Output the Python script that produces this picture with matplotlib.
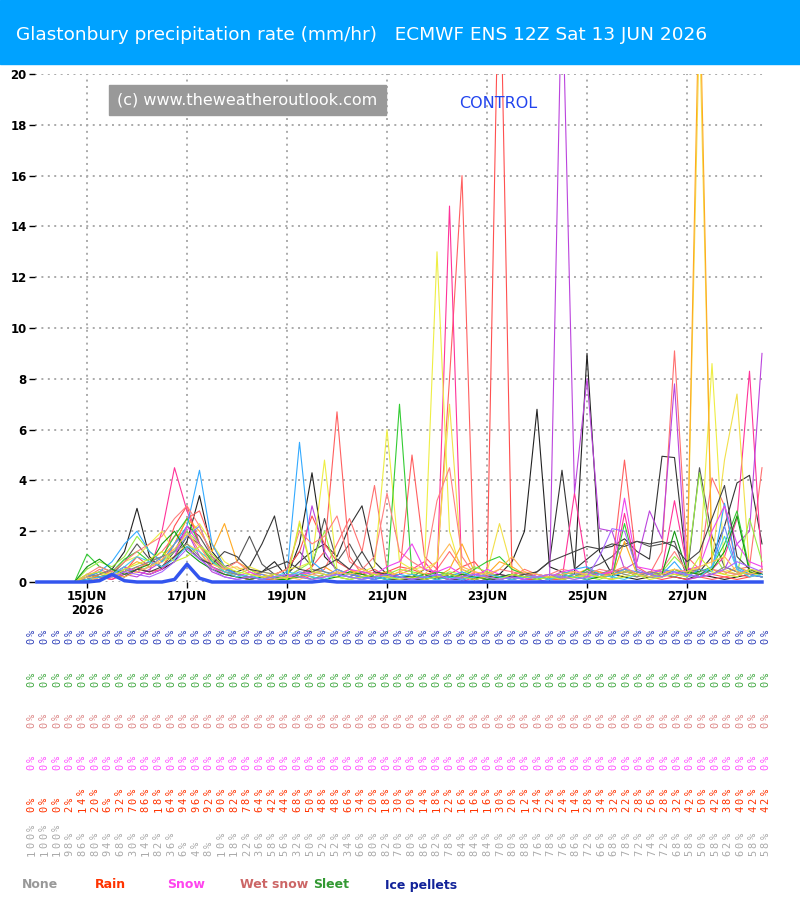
import numpy as np
import matplotlib
matplotlib.use("Agg")
import matplotlib.pyplot as plt
from matplotlib.patches import Rectangle

# ---- data --------------------------------------------------------------
title = "Glastonbury precipitation rate (mm/hr)   ECMWF ENS 12Z Sat 13 JUN 2026"
day_ticks = [0, 2, 4, 6, 8, 10, 12]
day_labels = ["15JUN\n2026", "17JUN", "19JUN", "21JUN", "23JUN", "25JUN", "27JUN"]
t_start = -1.0     # first step, days from 15 JUN 00Z
t_step = 0.25      # 6-hourly

control = [0, 0, 0, 0, 0, 0.05, 0.3, 0.05, 0, 0,
           0, 0.1, 0.7, 0.15, 0, 0, 0, 0, 0, 0,
           0, 0, 0, 0.05, 0, 0, 0, 0, 0, 0,
           0, 0, 0, 0, 0, 0, 0, 0, 0, 0,
           0, 0, 0, 0, 0, 0, 0, 0, 0, 0,
           0, 0, 0, 0, 0, 0, 0, 0, 0]

m01 = [0, 0, 0, 0, 0.1, 0.3, 0.5, 1.2, 2.9, 1.0,
       0.5, 0.8, 1.6, 3.4, 1.2, 0.6, 0.3, 0.2, 0.4, 0.8,
       0.2, 1.5, 4.3, 1.0, 0.5, 0.3, 0.2, 0.1, 0.3, 0.2,
       0.1, 0.2, 0.1, 0.3, 0.2, 0.1, 0.2, 0.3, 0.8, 2.0,
       6.8, 0.6, 0.4, 0.3, 9.0, 1.2, 0.3, 0.2, 0.1, 0.2,
       0.3, 0.2, 0.1, 0.3, 0.2, 0.1, 0.2, 0.3, 0.2]
m02 = [0, 0, 0, 0, 0, 0.2, 0.3, 0.6, 0.4, 0.3,
       0.5, 1.0, 1.8, 1.5, 0.9, 0.5, 0.4, 0.6, 1.5, 2.6,
       0.3, 0.8, 1.2, 1.5, 1.0, 2.2, 3.0, 0.8, 0.3, 0.2,
       0.2, 0.5, 0.3, 0.2, 0.1, 0.2, 0.3, 0.2, 0.1, 0.2,
       0.4, 0.8, 4.4, 0.5, 0.9, 1.3, 1.4, 1.7, 1.2, 0.9,
       4.95, 4.9, 0.5, 0.4, 1.0, 2.2, 3.9, 4.2, 1.5]
m03 = [0, 0, 0, 0, 0.2, 0.4, 0.3, 0.8, 1.5, 0.9,
       0.6, 1.2, 2.2, 1.8, 1.0, 0.6, 0.8, 1.8, 0.7, 0.3,
       0.5, 1.2, 0.6, 2.5, 0.8, 1.5, 0.6, 0.2, 0.1, 0.1,
       0.1, 0.1, 0.2, 0.1, 0.1, 0.2, 0.1, 0.1, 0.2, 0.3,
       0.2, 0.2, 0.1, 0.2, 0.5, 0.7, 1.0, 1.5, 1.6, 1.4,
       1.5, 1.6, 0.2, 4.5, 1.8, 0.6, 0.4, 0.3, 0.2]
m04 = [0, 0, 0, 0, 0.3, 0.2, 0.1, 0.4, 1.0, 0.6,
       0.8, 2.2, 3.0, 1.5, 0.8, 0.4, 0.2, 0.1, 0.2, 0.3,
       0.5, 1.2, 2.6, 1.5, 0.8, 0.5, 0.3, 0.2, 0.4, 0.6,
       0.5, 0.3, 0.4, 0.3, 0.6, 0.8, 0.2, 26.0, 0.2, 0.1,
       0.1, 0.2, 0.3, 0.2, 0.1, 0.2, 0.4, 0.5, 0.3, 0.2,
       0.1, 0.2, 0.1, 0.2, 0.3, 0.2, 0.1, 0.2, 0.3]
m05 = [0, 0, 0, 0, 0, 0.1, 0.5, 0.3, 0.6, 0.4,
       0.5, 1.5, 2.5, 2.8, 1.5, 0.6, 0.3, 0.2, 0.1, 0.1,
       0.2, 0.3, 0.6, 1.2, 6.7, 1.0, 0.3, 0.5, 0.2, 0.3,
       5.0, 1.0, 0.5, 8.0, 16.0, 0.0, 0.1, 0.2, 0.3, 0.4,
       0.2, 0.1, 0.1, 0.2, 0.3, 0.2, 0.5, 4.8, 0.6, 0.3,
       0.2, 0.5, 0.3, 0.2, 0.1, 0.2, 0.3, 0.2, 0.4]
m06 = [0, 0, 0, 0, 0.2, 0.5, 0.3, 0.2, 0.5, 0.8,
       1.2, 1.8, 2.0, 1.2, 0.5, 0.3, 0.2, 0.1, 0.2, 0.1,
       0.1, 0.2, 0.3, 0.5, 1.5, 2.5, 1.2, 3.8, 0.5, 0.2,
       0.3, 0.2, 0.5, 1.2, 0.5, 0.3, 0.2, 0.1, 0.2, 0.5,
       0.3, 0.2, 0.1, 0.3, 0.2, 0.4, 0.3, 0.5, 0.2, 0.3,
       1.2, 9.1, 1.0, 0.5, 4.1, 3.0, 0.5, 0.6, 4.5]
m07 = [0, 0, 0, 0, 0, 0.2, 0.1, 0.3, 0.5, 0.4,
       2.0, 4.5, 2.8, 1.5, 0.6, 0.3, 0.2, 0.1, 0.2, 0.1,
       0.2, 0.3, 0.1, 0.2, 0.3, 0.2, 0.1, 0.4, 0.2, 0.3,
       0.5, 0.8, 0.2, 14.8, 0.0, 0.2, 0.3, 0.1, 0.2, 0.1,
       0.2, 0.3, 0.1, 3.5, 0.5, 0.2, 0.1, 2.7, 0.4, 0.3,
       0.5, 3.2, 0.6, 0.2, 0.5, 1.0, 2.5, 8.3, 0.5]
m08 = [0, 0, 0, 0, 0, 0.1, 0.2, 0.3, 0.2, 0.5,
       0.8, 1.5, 2.0, 1.0, 0.4, 0.2, 0.1, 0.2, 0.1, 0.3,
       0.2, 0.5, 3.0, 1.2, 0.4, 0.3, 0.2, 0.1, 0.3, 0.2,
       0.1, 0.3, 0.2, 0.1, 0.2, 0.3, 0.4, 0.2, 0.1, 0.2,
       0.1, 0.0, 24.0, 3.5, 8.0, 2.1, 2.0, 0.5, 0.8, 2.8,
       1.7, 7.8, 0.1, 0.2, 0.3, 0.5, 1.5, 2.0, 9.0]
m09 = [0, 0, 0, 0, 0.1, 0.2, 0.4, 0.8, 1.0, 1.5,
       2.0, 1.2, 1.8, 2.3, 1.5, 0.8, 0.5, 0.6, 0.4, 0.3,
       0.5, 0.6, 0.8, 4.8, 0.5, 0.3, 0.4, 0.6, 6.0, 0.8,
       0.5, 0.6, 13.0, 2.0, 0.3, 0.2, 0.1, 0.3, 0.2, 0.3,
       0.2, 0.1, 0.3, 0.2, 0.4, 0.3, 0.2, 0.5, 0.3, 0.2,
       0.4, 0.5, 0.3, 0.6, 8.6, 0.5, 0.3, 0.4, 0.2]
m10 = [0, 0, 0, 0, 0, 0.2, 0.3, 0.5, 0.4, 0.6,
       0.8, 1.0, 1.5, 1.2, 0.6, 0.4, 0.3, 0.2, 0.3, 0.2,
       0.1, 2.4, 0.5, 0.3, 0.2, 0.4, 0.5, 0.3, 0.2, 0.4,
       0.3, 0.5, 0.8, 7.0, 0.5, 0.2, 0.4, 2.3, 0.5, 0.3,
       0.2, 0.3, 0.2, 0.1, 0.3, 0.2, 0.1, 0.3, 0.2, 0.4,
       0.3, 0.5, 0.2, 22.0, 0.8, 4.8, 7.4, 0.5, 0.3]
m11 = [0, 0, 0, 0, 0.1, 0.3, 0.2, 0.5, 0.8, 0.6,
       1.0, 1.5, 2.5, 2.0, 1.2, 2.3, 0.8, 0.5, 0.3, 0.2,
       0.3, 0.2, 0.4, 0.6, 0.3, 0.5, 0.2, 0.3, 0.4, 0.2,
       0.1, 0.3, 0.2, 0.5, 1.5, 0.4, 0.3, 0.8, 0.6, 0.3,
       0.2, 0.1, 0.2, 0.3, 0.5, 0.4, 0.2, 1.6, 0.3, 0.2,
       0.5, 0.3, 0.3, 24.0, 0.5, 0.3, 0.6, 0.4, 0.3]
m12 = [0, 0, 0, 0, 1.1, 0.6, 0.4, 0.9, 1.2, 0.8,
       1.0, 1.8, 2.5, 1.5, 0.8, 0.5, 0.3, 0.2, 0.1, 0.2,
       0.1, 0.2, 0.1, 0.3, 0.2, 0.1, 0.2, 0.3, 0.2, 7.0,
       0.3, 0.2, 0.4, 0.3, 0.2, 0.5, 0.8, 1.0, 0.5, 0.3,
       0.2, 0.1, 0.3, 0.2, 0.5, 0.3, 0.2, 2.3, 0.4, 0.3,
       0.2, 0.5, 0.3, 0.4, 0.6, 1.5, 2.8, 0.5, 0.3]
m13 = [0, 0, 0, 0, 0.5, 0.8, 0.6, 1.0, 1.8, 1.2,
       0.8, 1.2, 2.0, 1.5, 0.9, 0.4, 0.3, 0.5, 0.2, 0.1,
       0.2, 0.5, 0.8, 2.0, 0.3, 0.2, 0.1, 0.2, 0.3, 0.5,
       0.4, 0.3, 0.2, 0.4, 0.3, 0.6, 0.4, 0.2, 0.3, 0.2,
       0.1, 0.2, 0.4, 0.3, 0.2, 0.1, 0.3, 0.5, 0.3, 0.2,
       0.4, 1.0, 0.5, 4.3, 1.2, 0.4, 0.3, 2.5, 0.8]
m14 = [0, 0, 0, 0, 0.2, 0.4, 0.8, 1.5, 2.0, 1.2,
       0.8, 1.5, 2.2, 4.4, 1.5, 0.6, 0.3, 0.2, 0.1, 0.2,
       0.3, 5.5, 0.8, 0.4, 0.2, 0.3, 0.2, 0.1, 0.2, 0.3,
       0.2, 0.1, 0.3, 0.2, 0.4, 0.2, 0.1, 0.2, 0.3, 0.2,
       0.1, 0.2, 0.3, 0.5, 0.6, 0.3, 0.2, 0.4, 0.3, 0.2,
       0.3, 0.8, 0.2, 0.5, 0.4, 3.1, 0.6, 0.3, 0.2]
m15 = [0, 0, 0, 0, 0.1, 0.2, 0.3, 0.5, 0.4, 0.6,
       1.0, 1.2, 1.8, 2.2, 1.0, 0.5, 0.3, 0.2, 0.3, 0.1,
       0.2, 0.4, 0.3, 0.2, 0.5, 0.3, 0.2, 0.1, 0.3, 0.2,
       0.1, 0.2, 0.3, 0.2, 0.1, 0.3, 0.2, 0.1, 0.2, 0.3,
       0.2, 0.1, 0.2, 0.3, 0.4, 0.2, 0.3, 0.5, 0.4, 0.3,
       0.5, 0.4, 0.2, 0.3, 0.6, 2.2, 0.5, 0.3, 0.2]
m16 = [0, 0, 0, 0, 0.3, 0.6, 0.4, 0.8, 1.2, 1.5,
       1.8, 2.5, 3.0, 2.2, 1.0, 0.5, 0.8, 0.4, 0.2, 0.3,
       0.5, 2.0, 1.5, 1.8, 2.6, 0.8, 0.5, 1.0, 3.5, 1.2,
       0.8, 0.5, 3.2, 4.5, 1.0, 0.3, 0.2, 0.5, 0.4, 0.3,
       0.2, 0.3, 0.5, 0.4, 0.3, 0.5, 0.4, 0.6, 0.3, 0.4,
       0.5, 1.2, 0.4, 0.3, 0.5, 0.4, 0.3, 0.5, 0.4]
m17 = [0, 0, 0, 0, 0.2, 0.3, 0.5, 0.4, 0.6, 0.8,
       1.0, 1.2, 1.5, 1.0, 0.6, 0.4, 0.3, 0.2, 0.4, 0.3,
       0.2, 0.3, 0.5, 0.4, 0.3, 0.2, 0.4, 0.3, 0.2, 0.1,
       0.2, 0.1, 0.2, 0.1, 0.3, 0.2, 0.1, 0.2, 0.1, 0.2,
       0.3, 0.2, 0.1, 0.2, 0.4, 0.3, 0.5, 0.3, 0.2, 0.4,
       0.3, 0.2, 0.4, 0.5, 0.3, 0.6, 0.4, 0.3, 0.5]
m18 = [0, 0, 0, 0, 0, 0.1, 0.3, 0.6, 0.4, 0.3,
       0.5, 1.0, 2.2, 1.5, 0.6, 0.3, 0.2, 0.4, 0.2, 0.1,
       0.2, 0.3, 0.4, 0.3, 0.2, 0.5, 0.4, 0.3, 0.6, 0.8,
       1.5, 0.5, 0.4, 0.6, 0.3, 0.2, 0.5, 0.3, 0.2, 0.1,
       0.3, 0.2, 0.4, 0.5, 0.2, 0.3, 0.4, 3.3, 0.6, 0.5,
       0.4, 0.3, 0.5, 0.6, 2.0, 3.0, 1.5, 0.8, 0.6]
m19 = [0, 0, 0, 0, 0.6, 0.9, 0.5, 0.3, 0.5, 0.7,
       1.5, 2.0, 1.2, 0.8, 0.5, 0.3, 0.2, 0.1, 0.2, 0.1,
       0.1, 0.3, 0.2, 0.1, 0.2, 0.4, 0.3, 0.2, 0.1, 0.2,
       0.2, 0.3, 0.1, 0.2, 0.3, 0.2, 0.1, 0.2, 0.3, 0.2,
       0.1, 0.2, 0.3, 0.2, 0.1, 0.2, 0.3, 0.4, 0.3, 0.2,
       0.3, 2.0, 0.4, 0.3, 0.5, 1.2, 2.6, 0.4, 0.3]
m20 = [0, 0, 0, 0, 0.1, 0.2, 0.3, 0.2, 0.5, 0.4,
       0.6, 1.0, 1.4, 0.9, 0.7, 1.2, 1.0, 0.5, 0.4, 0.6,
       0.8, 0.5, 0.4, 0.6, 0.9, 0.5, 1.2, 0.4, 0.3, 0.2,
       0.2, 0.1, 0.2, 0.3, 0.2, 0.1, 0.2, 0.3, 0.2, 0.3,
       0.4, 0.8, 1.0, 1.2, 1.4, 1.3, 1.5, 1.4, 1.6, 1.5,
       1.6, 1.4, 0.8, 1.2, 2.5, 3.8, 1.0, 0.5, 0.3]
m21 = [0, 0, 0, 0, 0.1, 0.2, 0.3, 0.6, 1.0, 0.8,
       0.6, 0.9, 1.4, 1.2, 0.8, 0.4, 0.2, 0.3, 0.1, 0.2,
       0.4, 0.3, 0.2, 0.1, 0.3, 0.2, 0.1, 0.2, 0.1, 0.2,
       0.3, 0.2, 0.1, 0.2, 0.1, 0.2, 0.3, 0.2, 0.1, 0.2,
       0.2, 0.1, 0.3, 0.2, 0.1, 0.3, 0.2, 0.1, 0.3, 0.2,
       0.2, 0.4, 0.3, 0.2, 0.6, 1.8, 0.5, 0.2, 0.3]
m22 = [0, 0, 0, 0, 0.2, 0.1, 0.3, 0.2, 0.4, 0.6,
       0.9, 1.3, 1.9, 1.4, 0.7, 0.5, 0.6, 0.3, 0.2, 0.1,
       0.2, 0.1, 0.3, 0.2, 0.4, 0.3, 0.5, 0.3, 0.2, 0.4,
       0.6, 0.3, 0.8, 1.5, 0.6, 0.4, 0.3, 0.5, 1.0, 0.4,
       0.3, 0.2, 0.3, 0.4, 0.3, 0.2, 0.3, 0.4, 0.3, 0.2,
       0.3, 0.5, 0.4, 0.6, 0.8, 1.0, 0.4, 0.3, 0.5]
m23 = [0, 0, 0, 0, 0.3, 0.4, 0.2, 0.5, 0.7, 0.9,
       1.2, 0.8, 1.0, 1.4, 1.1, 0.6, 0.4, 0.3, 0.2, 0.3,
       0.1, 2.3, 0.4, 0.3, 0.2, 0.1, 0.2, 0.3, 0.2, 0.1,
       0.2, 0.1, 0.2, 0.3, 0.2, 0.1, 0.2, 0.1, 0.3, 0.2,
       0.1, 0.2, 0.1, 0.2, 0.3, 0.2, 0.1, 0.2, 0.3, 0.1,
       0.2, 0.3, 0.2, 1.0, 0.4, 0.3, 0.2, 0.5, 0.4]
m24 = [0, 0, 0, 0, 0, 0.1, 0.2, 0.4, 0.3, 0.2,
       0.4, 0.8, 1.3, 0.9, 0.5, 0.2, 0.1, 0.2, 0.1, 0.2,
       0.3, 0.2, 0.1, 0.2, 0.3, 0.2, 0.1, 0.2, 0.3, 0.2,
       0.1, 0.2, 0.3, 0.1, 0.2, 0.3, 0.2, 0.1, 0.2, 0.1,
       0.2, 0.3, 0.2, 0.1, 0.2, 1.0, 2.1, 2.0, 0.5, 0.3,
       0.2, 0.4, 0.3, 0.2, 0.3, 0.5, 0.8, 0.6, 0.4]

members = [m01, m02, m03, m04, m05, m06, m07, m08, m09, m10, m11, m12,
           m13, m14, m15, m16, m17, m18, m19, m20, m21, m22, m23, m24]
member_colors = ["#222222", "#333333", "#555555", "#ff5050", "#ff6060", "#ff7070",
                 "#ff3399", "#bb44dd", "#eeee44", "#f2e04a", "#ffaa22", "#33cc33",
                 "#99ee44", "#33aaff", "#6688ff", "#ff8080", "#888888", "#ee44ee",
                 "#119911", "#444444", "#44ccee", "#ffbb55", "#ccee33", "#aa66ff"]

# probability rows (% of members) per 6h step
pct_ice = [0] * 59
pct_sleet = [0] * 59
pct_wetsnow = [0] * 59
pct_snow = [0] * 59
pct_rain = [0, 0, 0, 2, 14, 20, 6, 32, 70, 86, 18, 64, 94, 96, 92,
            90, 82, 78, 64, 42, 44, 68, 50, 48, 48, 66, 34, 20, 18,
            30, 20, 14, 18, 22, 16, 16, 16, 30, 20, 12, 24, 22, 24, 14,
            28, 34, 32, 22, 28, 26, 28, 32, 42, 50, 42, 38, 40, 42, 42]
pct_none = [100, 100, 100, 98, 86, 80, 94, 68, 30, 14, 82, 36, 6, 4, 8,
            10, 18, 22, 36, 58, 56, 32, 50, 52, 52, 34, 66, 80, 82,
            70, 80, 86, 82, 78, 84, 84, 84, 70, 80, 88, 76, 78, 76, 86,
            72, 66, 68, 78, 72, 74, 72, 68, 58, 50, 58, 62, 60, 58, 58]

legend_names = ["None", "Rain", "Snow", "Wet snow", "Sleet", "Ice pellets"]
legend_colors = ["#999999", "#ff3300", "#ff44ee", "#cc6666", "#339933", "#112299"]

# ---- figure --------------------------------------------------------------
W, H = 800, 900

def fx(px):
    return px / W

def fy(py):
    return 1 - py / H

fig = plt.figure(figsize=(8, 9), dpi=100)

# title band
fig.patches.append(Rectangle((0, fy(64)), 1, 64 / H, transform=fig.transFigure,
                             color="#00a2ff", zorder=0))
fig.text(fx(16), fy(35), title, color="white", fontsize=13.3,
         va="center", ha="left")

ax = fig.add_axes([fx(35), fy(582), fx(765) - fx(35), (582 - 74) / H])
t = t_start + t_step * np.arange(len(control))

for vals, c in zip(members, member_colors):
    ax.plot(t, vals, color=c, lw=0.8)
ax.plot(t, control, color="#3355ee", lw=2.5, clip_on=False, zorder=5)

ax.set_xlim(-1.04, 13.56)
ax.set_ylim(0, 20)
ax.set_yticks(np.arange(0, 21, 2))
ax.set_xticks(day_ticks)
ax.set_xticklabels(day_labels, fontweight="bold", fontsize=8.5, linespacing=1.1)
ax.set_yticklabels([str(v) for v in range(0, 21, 2)], fontweight="bold",
                   fontsize=8.5)
ax.tick_params(length=4, width=1, pad=2)
for s in ax.spines.values():
    s.set_visible(False)
ax.grid(True, color="#aaaaaa", lw=1.4, linestyle=(0, (1, 2.3)))
ax.set_axisbelow(True)

# watermark + control label
fig.patches.append(Rectangle((fx(109), fy(115)), fx(386) - fx(109), 30 / H,
                             transform=fig.transFigure, color="#999999", zorder=3))
fig.text(fx(117), fy(100), "(c) www.theweatheroutlook.com", color="white",
         fontsize=11.5, va="center", ha="left", zorder=4)
fig.text(fx(459), fy(103), "CONTROL", color="#2244ee", fontsize=11.5,
         va="center", ha="left")

# probability rows, vertical text built character by character
rows = [(pct_ice, "#3344bb", 645), (pct_sleet, "#44aa44", 688),
        (pct_wetsnow, "#dd8888", 729), (pct_snow, "#ff55ff", 771),
        (pct_rain, "#ff3300", 813), (pct_none, "#aaaaaa", 857)]
col_x = np.linspace(31.7, 765.7, len(pct_rain))
pitch = 8.4
for vals, c, bottom in rows:
    for x, v in zip(col_x, vals):
        s = "%d%%" % v
        for k, ch in enumerate(s):
            fig.text(fx(x), fy(bottom - pitch / 2 - k * pitch), ch, color=c,
                     fontsize=7.5, family="DejaVu Sans Mono", rotation=90,
                     ha="center", va="center")

# legend
for name, c, x in zip(legend_names, legend_colors, [22, 95, 167, 240, 313, 385]):
    fig.text(fx(x), fy(885), name, color=c, fontsize=9, fontweight="bold",
             va="center", ha="left")

fig.savefig("out.png", dpi=100)
